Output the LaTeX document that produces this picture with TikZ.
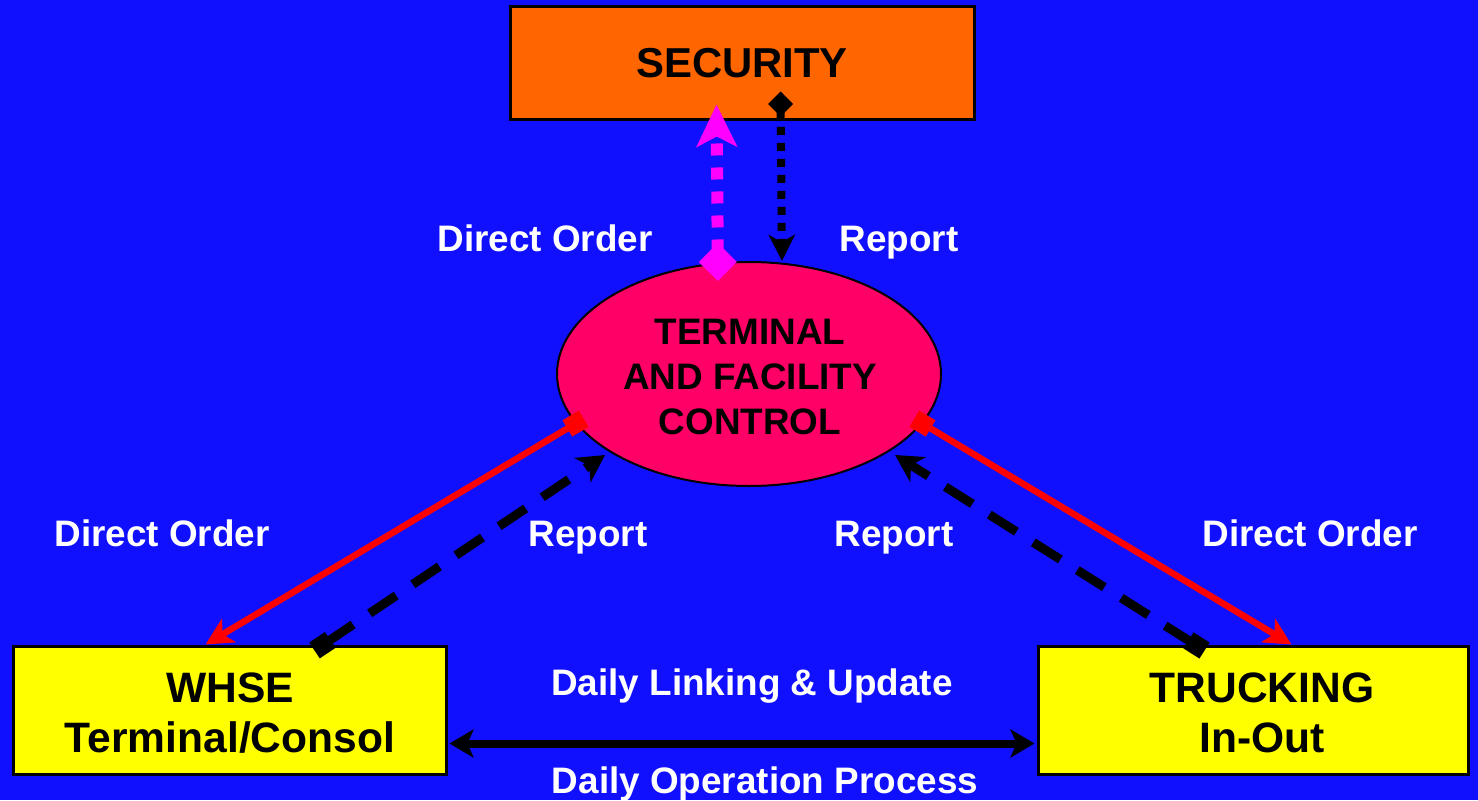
\documentclass[tikz,border=0pt]{standalone}
\usepackage{fontspec}
\setmainfont{Liberation Sans}
\usetikzlibrary{shapes.geometric,arrows.meta,calc}
\definecolor{bgblue}{RGB}{16,16,255}
\definecolor{secorange}{RGB}{255,102,0}
\definecolor{tfcpink}{RGB}{255,0,102}
\definecolor{boxyellow}{RGB}{255,255,0}
\definecolor{mag}{RGB}{255,0,255}
\definecolor{redline}{RGB}{255,0,0}
\tikzset{
  lbl/.style={text=white,font=\fontsize{37}{40}\selectfont\bfseries,inner sep=0pt,anchor=base},
  bigbox/.style={draw=black,line width=3bp,inner sep=0pt,align=center,font=\fontsize{42.7}{50}\selectfont\bfseries},
  redarrow/.style={draw=redline,line width=6.5bp,{Square[length=19bp,width=19bp]}-{Stealth[length=27bp,width=27bp,inset=7bp]}},
  dasharrow/.style={draw=black,line width=9bp,dash pattern=on 32bp off 20bp,{Square[length=19bp,width=19bp]}-{Stealth[length=27bp,width=29bp,inset=8bp]}},
}
\begin{document}
\begin{tikzpicture}[x=1bp,y=-1bp]
\useasboundingbox[fill=bgblue] (0,0) rectangle (1478,800);
% nodes
\node[bigbox,fill=secorange,minimum width=464bp,minimum height=112bp,font=\fontsize{42}{50}\selectfont\bfseries] (sec) at (742,63) {\raisebox{-1bp}{SECURITY}};
\node[ellipse,draw=black,line width=2bp,fill=tfcpink,minimum width=384bp,minimum height=224bp,inner sep=0pt] (tfc) at (749,374) {};
\node[align=center,inner sep=0pt,font=\fontsize{37}{45}\selectfont\bfseries] (tfctext) at ($(tfc.center)+(1,3)$) {TERMINAL\\AND FACILITY\\CONTROL};
\node[bigbox,fill=boxyellow,minimum width=432bp,minimum height=128bp] (whse) at (230,710) {};
\node[align=center,inner sep=0pt,font=\fontsize{42.7}{50}\selectfont\bfseries] (whsetext) at ($(whse.center)+(0,3)$) {WHSE\\Terminal/Consol};
\node[bigbox,fill=boxyellow,minimum width=430bp,minimum height=128bp] (truck) at (1253,710) {};
\node[align=center,inner sep=0pt,font=\fontsize{42.7}{50}\selectfont\bfseries] (trucktext) at ($(truck.center)+(9,3)$) {TRUCKING\\In-Out};
% labels
\node[lbl] (l1) at (545,251) {Direct Order};
\node[lbl] (l2) at (899,251) {Report};
\node[lbl] (l3) at (162,546) {Direct Order};
\node[lbl] (l4) at (588,546) {Report};
\node[lbl] (l5) at (894,546) {Report};
\node[lbl] (l6) at (1310,546) {Direct Order};
\node[lbl] (l7) at (752,695) {Daily Linking \& Update};
\node[lbl] (l8) at (765,793) {Daily Operation Process};
% security connectors
\draw[mag,line width=12bp,dash pattern=on 12bp off 12bp,{Diamond[length=38bp,width=38bp]}-{Stealth[length=42bp,width=40bp,inset=10bp]}]
  ($(tfc.north)+(-31,20)$) -- ($(sec.south west)+(208,-16)$);
\draw[black,line width=8bp,dash pattern=on 8bp off 8bp,{Diamond[length=25bp,width=25bp]}-{Stealth[length=26bp,width=26bp,inset=7bp]}]
  ($(sec.south west)+(272,-29)$) -- ($(tfc.north)+(33,0)$);
% side connectors
\draw[redarrow] ($(tfc.196)+(8,-5)$) -- ($(whse.north west)+(193,0)$);
\draw[dasharrow] ($(whse.north west)+(302,6)$) -- ($(tfc.center)+(-144,81)$);
\draw[redarrow] ($(tfc.344)+(-8,-5)$) -- ($(truck.north west)+(255,0)$);
\draw[dasharrow] ($(truck.north west)+(168,6)$) -- ($(tfc.center)+(146,81)$);
% bottom
\draw[black,line width=8bp,{Stealth[length=24bp,width=28bp,inset=6bp]}-{Stealth[length=24bp,width=28bp,inset=6bp]}]
  ($(whse.south east)+(2,-32)$) -- ($(truck.south west)+(-2,-32)$);
\end{tikzpicture}
\end{document}
